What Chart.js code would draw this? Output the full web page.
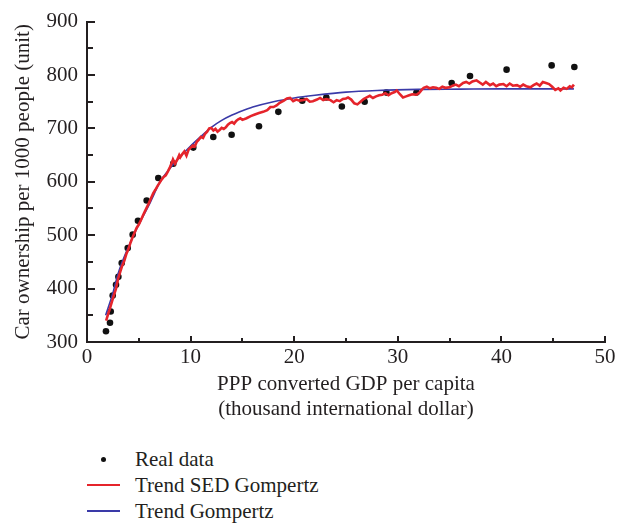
<!DOCTYPE html>
<html>
<head>
<meta charset="utf-8">
<script src="https://cdn.jsdelivr.net/npm/chart.js@4.4.1/dist/chart.umd.min.js"></script>
<style>
  html, body { margin: 0; padding: 0; background: #ffffff; }
  #wrap { position: relative; width: 633px; height: 529px; overflow: hidden; }
  #c { position: absolute; left: 0; top: 0; }
  #legend { position: absolute; left: 87px; top: 446px; font-family: "Liberation Serif", "DejaVu Serif", serif; font-size: 21px; color: #231f20; }
  .item { position: relative; height: 26px; line-height: 26px; }
  .sym { position: absolute; left: 0; width: 33px; height: 26px; }
  .lbl { position: absolute; left: 48px; top: 0; white-space: nowrap; }
</style>
</head>
<body>
<div id="wrap">
  <canvas id="c" width="633" height="430"></canvas>
  <div id="legend"></div>
</div>
<script>
// ---- Data ----
const realX = [1.83, 2.22, 2.29, 2.48, 2.8, 3.03, 3.35, 3.93, 4.41, 4.92, 5.76, 6.88, 8.33, 10.26, 12.19, 13.96, 16.6, 18.47, 20.78, 23.1, 24.6, 26.8, 28.9, 31.8, 35.2, 36.97, 40.5, 44.85, 47.04];
const realY = [320, 336, 357, 387, 407, 422, 448, 476, 501, 527, 565, 607, 634, 664, 684, 688, 704, 731, 752, 758, 741, 750, 767, 767, 785, 798, 810, 818, 815];

const sedX = [1.85, 2.0, 2.2, 2.4, 2.6, 2.8, 3.0, 3.2, 3.4, 3.6, 3.8, 4.0, 4.2, 4.4, 4.6, 4.8, 5.0, 5.2, 5.4, 5.6, 5.8, 6.0, 6.2, 6.4, 6.6, 6.8, 7.0, 7.2, 7.4, 7.6, 7.8, 8.0, 8.2, 8.3, 8.5, 8.7, 8.9, 9.0, 9.2, 9.4, 9.6, 9.8, 10.0, 10.2, 10.4, 10.6, 10.8, 11.0, 11.2, 11.4, 11.6, 11.8, 12.0, 12.2, 12.4, 12.6, 12.8, 13.0, 13.2, 13.4, 13.6, 13.8, 14.0, 14.2, 14.4, 14.6, 14.8, 15.0, 15.4, 15.8, 16.2, 16.6, 17.0, 17.4, 17.7, 18.0, 18.3, 18.6, 19.0, 19.3, 19.6, 19.9, 20.2, 20.5, 20.9, 21.2, 21.5, 21.8, 22.2, 22.5, 22.8, 23.1, 23.5, 23.8, 24.1, 24.4, 24.7, 25.0, 25.2, 25.5, 25.8, 26.1, 26.4, 26.7, 27.0, 27.3, 27.6, 27.9, 28.2, 28.5, 28.8, 29.1, 29.4, 29.7, 29.9, 30.2, 30.5, 30.8, 31.1, 31.4, 31.8, 32.1, 32.3, 32.5, 32.8, 33.1, 33.4, 33.7, 34.0, 34.3, 34.6, 35.0, 35.3, 35.6, 35.9, 36.3, 36.6, 36.9, 37.2, 37.6, 37.9, 38.2, 38.5, 38.9, 39.2, 39.5, 39.8, 40.2, 40.5, 40.8, 41.1, 41.5, 41.8, 42.1, 42.4, 42.8, 43.1, 43.4, 43.7, 44.0, 44.3, 44.6, 44.9, 45.2, 45.5, 45.7, 46.0, 46.3, 46.6, 46.8, 47.0];
const sedY = [340, 350, 362, 375, 388, 400, 418, 431, 443, 452, 465, 474, 486, 496, 505, 514, 520, 528, 537, 545, 553, 561, 570, 579, 585, 592, 598, 604, 609, 612, 619, 627, 636, 642, 634, 641, 650, 646, 652, 657, 649, 660, 664, 668, 666, 675, 679, 684, 682, 690, 694, 700, 701, 696, 699, 694, 697, 701, 699, 702, 707, 710, 712, 709, 714, 717, 719, 716, 719, 723, 726, 729, 731, 734, 740, 740, 743, 748, 752, 756, 757, 751, 754, 752, 753, 755, 750, 751, 754, 757, 753, 755, 753, 749, 753, 751, 755, 756, 758, 754, 747, 745, 750, 755, 758, 761, 757, 760, 762, 763, 766, 762, 766, 768, 771, 764, 758, 760, 762, 764, 763, 767, 772, 776, 778, 775, 777, 776, 774, 778, 776, 777, 780, 782, 779, 785, 787, 784, 788, 790, 786, 782, 787, 781, 784, 779, 782, 783, 779, 784, 780, 781, 778, 782, 779, 777, 781, 784, 780, 787, 785, 783, 778, 772, 775, 771, 776, 774, 779, 777, 782];

const gompX = [1.8, 2.5, 3, 4, 5, 6, 6.5, 7, 8, 9, 10, 11, 12, 13, 14, 15, 16, 18, 20, 22, 25, 28, 32, 36, 40, 44, 47];
const gompY = [350, 392, 428, 478, 520, 557, 578, 598, 625, 647, 667, 685, 702, 715, 725, 733, 740, 750, 757, 762, 768, 771, 773, 773.5, 774, 774, 774];

const xTicks = [0, 10, 20, 30, 40, 50];
const yTicks = [300, 400, 500, 600, 700, 800, 900];
const seriesNames = ["Real data", "Trend SED Gompertz", "Trend Gompertz"];

const toPts = (xs, ys) => xs.map((x, i) => ({ x: x, y: ys[i] }));

const FONT = '"Liberation Serif", "DejaVu Serif", serif';
const INK = '#231f20';

const innerTicks = {
  id: 'innerTicks',
  afterDraw(chart) {
    const { ctx, chartArea, scales } = chart;
    const xs = scales.x, ys = scales.y;
    ctx.save();
    ctx.strokeStyle = INK;
    ctx.lineWidth = 2;
    for (let v = 0; v <= 50; v += 5) {
      const px = Math.round(xs.getPixelForValue(v));
      const len = (v % 10 === 0) ? 6 : 4;
      ctx.beginPath();
      ctx.moveTo(px, chartArea.bottom);
      ctx.lineTo(px, chartArea.bottom - len);
      ctx.stroke();
    }
    for (let v = 300; v <= 900; v += 50) {
      const py = Math.round(ys.getPixelForValue(v));
      const len = (v % 100 === 0) ? 8 : 6;
      ctx.beginPath();
      ctx.moveTo(chartArea.left, py);
      ctx.lineTo(chartArea.left + len, py);
      ctx.stroke();
    }
    ctx.restore();
  }
};

const chart = new Chart(document.getElementById('c'), {
  type: 'scatter',
  data: {
    datasets: [
      { label: seriesNames[0], data: toPts(realX, realY), backgroundColor: '#111111', borderColor: '#111111',
        pointRadius: 3.3, pointBorderWidth: 0, showLine: false, order: 3 },
      { label: seriesNames[1], data: toPts(sedX, sedY), borderColor: '#e5242b', backgroundColor: '#e5242b',
        borderWidth: 2.6, pointRadius: 0, showLine: true, tension: 0, order: 1 },
      { label: seriesNames[2], data: toPts(gompX, gompY), borderColor: '#3a3aa8', backgroundColor: '#3a3aa8',
        borderWidth: 1.6, pointRadius: 0, showLine: true, tension: 0.4, cubicInterpolationMode: 'monotone', order: 2 }
    ]
  },
  options: {
    responsive: false,
    animation: false,
    layout: { padding: { top: 12, right: 28, left: 0, bottom: 0 } },
    plugins: { legend: { display: false }, tooltip: { enabled: false } },
    scales: {
      x: {
        type: 'linear', min: 0, max: 50,
        afterFit(s) { s.height = 88; },
        afterBuildTicks(s) { s.ticks = xTicks.map(v => ({ value: v })); },
        grid: { display: false, drawTicks: false },
        border: { display: true, color: INK, width: 2 },
        ticks: { color: INK, font: { family: FONT, size: 21 }, padding: 3, maxRotation: 0 },
        title: { display: true, text: ['PPP converted GDP per capita', '(thousand international dollar)'],
                 color: INK, font: { family: FONT, size: 21, lineHeight: 1.2 }, padding: { top: 0, bottom: 8 } }
      },
      y: {
        type: 'linear', min: 300, max: 900,
        afterFit(s) { s.width = 87; },
        afterBuildTicks(s) { s.ticks = yTicks.map(v => ({ value: v })); },
        grid: { display: false, drawTicks: false },
        border: { display: true, color: INK, width: 2 },
        ticks: { color: INK, font: { family: FONT, size: 21 }, padding: 9 },
        title: { display: true, text: 'Car ownership per 1000 people (unit)',
                 color: INK, font: { family: FONT, size: 21, lineHeight: 1.2 }, padding: { top: 11, bottom: 0 } }
      }
    }
  },
  plugins: [innerTicks]
});

// HTML legend built from the chart's datasets
const legend = document.getElementById('legend');
chart.data.datasets.forEach((ds, i) => {
  const item = document.createElement('div');
  item.className = 'item';
  const sym = document.createElement('div');
  sym.className = 'sym';
  if (i === 0) {
    sym.innerHTML = '<div style="position:absolute;left:14px;top:11px;width:5px;height:5px;border-radius:50%;background:' + ds.backgroundColor + '"></div>';
  } else {
    sym.innerHTML = '<div style="position:absolute;left:0;top:12px;width:33px;height:2px;background:' + ds.borderColor + '"></div>';
  }
  const lbl = document.createElement('span');
  lbl.className = 'lbl';
  lbl.textContent = ds.label;
  item.appendChild(sym);
  item.appendChild(lbl);
  legend.appendChild(item);
});
</script>
</body>
</html>
